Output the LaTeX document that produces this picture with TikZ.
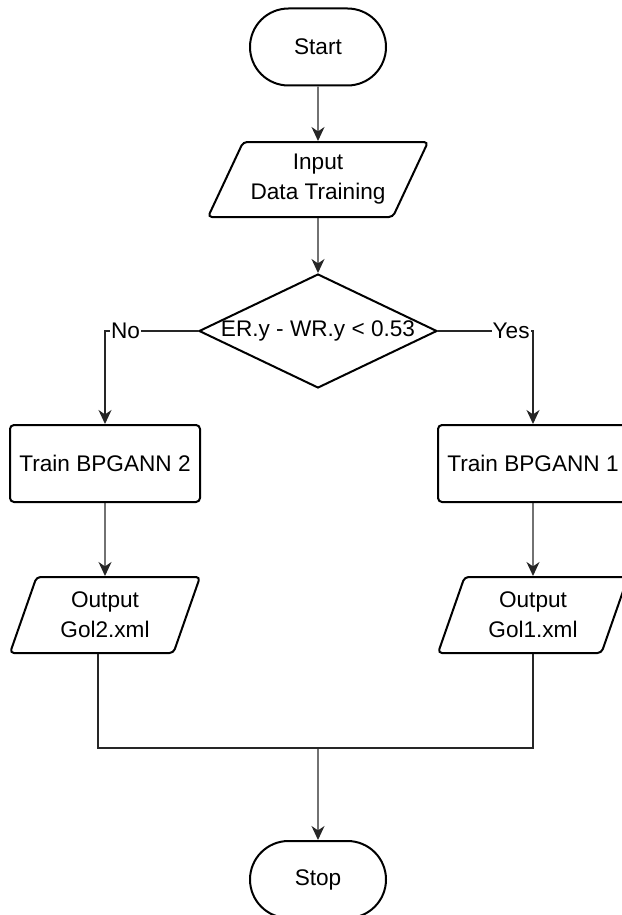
\documentclass[tikz,border=0pt]{standalone}
\usepackage{fontspec}
\setmainfont{Liberation Sans}
\usetikzlibrary{arrows.meta,shapes.geometric,shapes.misc}
\tikzset{
  every node/.style={font=\fontsize{11.3}{15}\selectfont,align=center},
  term/.style={draw,line width=1pt,rounded rectangle,minimum width=68pt,minimum height=38.5pt,inner sep=0pt},
  io/.style={draw,line width=1pt,trapezium,trapezium stretches body,rounded corners=2pt,inner sep=0pt},
  process/.style={draw,line width=1pt,rectangle,rounded corners=2pt,minimum width=95pt,minimum height=38.5pt,inner sep=0pt},
  decision/.style={draw,line width=1pt,diamond,minimum width=119pt,minimum height=57pt,inner sep=0pt},
  flow/.style={line width=0.65pt,draw=black!85},
  yesno/.style={fill=white,inner sep=0.5pt}
}
\begin{document}
\begin{tikzpicture}[>={Stealth[length=7pt,width=6.5pt,inset=2.2pt]},x=0.5pt,y=-0.5pt]
\useasboundingbox (0,0) rectangle (621,915);
\node[term] (start) at (318,47) {Start};
\node[io,trapezium left angle=55,trapezium right angle=125,minimum width=110pt,minimum height=37.5pt] (input) at (318,179.5) {Input\\Data Training};
\node[decision] (cond) at (318,331) {\makebox[0pt]{ER.y - WR.y < 0.53}};
\node[process] (train2) at (105,463.5) {Train BPGANN 2};
\node[process] (train1) at (533,463.5) {Train BPGANN 1};
\node[io,trapezium left angle=60,trapezium right angle=120,minimum width=95pt,minimum height=38pt] (out2) at (105,615) {Output\\Gol2.xml};
\node[io,trapezium left angle=60,trapezium right angle=120,minimum width=95pt,minimum height=38pt] (out1) at (533,615) {Output\\Gol1.xml};
\node[term] (stop) at (318,879.5) {Stop};
\coordinate (join) at (318,748);
\draw[flow,->] (start) -- (input);
\draw[flow,->] (input) -- (cond);
\draw[flow,->] (cond.west) -| node[yesno,pos=.39] {No} (train2.north);
\draw[flow,->] (cond.east) -| node[yesno,pos=.385] {Yes} (train1.north);
\draw[flow,->] (train2) -- (out2);
\draw[flow,->] (train1) -- (out1);
\draw[flow] ([xshift=-3.5pt]out2.south) |- (join) -| (out1.south);
\draw[flow,->] (join) -- (stop);
\end{tikzpicture}
\end{document}
